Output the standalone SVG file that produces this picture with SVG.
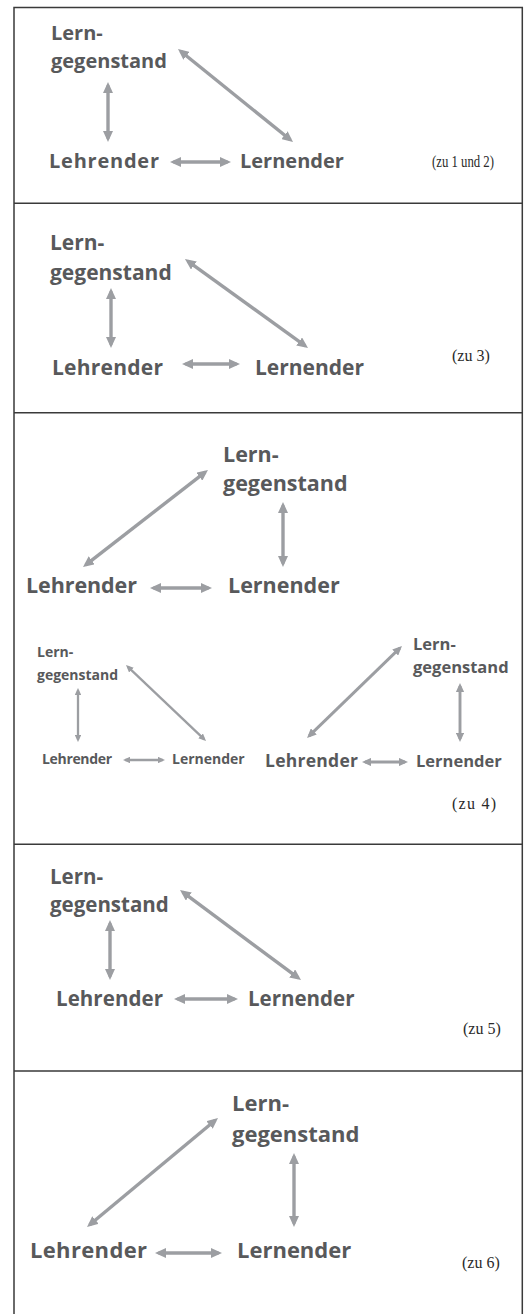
<svg xmlns="http://www.w3.org/2000/svg" width="529" height="1314" viewBox="0 0 529 1314">
<style>
.bg{fill:#ffffff}
.frame{fill:none;stroke:#3a3a3a;stroke-width:1.5}
.lbl{font-family:"Open Sans","Liberation Sans",sans-serif;font-weight:700;fill:#58595b}
.note{font-family:"Liberation Serif","DejaVu Serif",serif;font-size:16px;fill:#2a2a2a}
.c{stroke:#9c9ea2;fill:none;stroke-width:3.4;marker-start:url(#ah);marker-end:url(#ah)}
.cs{stroke-width:2.3}
.cm{stroke-width:2.9}
</style>
<defs>
<marker id="ah" viewBox="0 0 11 10" refX="7.5" refY="5" markerWidth="3.24" markerHeight="2.94" orient="auto-start-reverse" markerUnits="strokeWidth">
<path d="M0,0 L11,5 L0,10 z" fill="#9c9ea2"/>
</marker>
</defs>
<rect class="bg" x="0" y="0" width="529" height="1314"/>
<g id="frames">
<path class="frame" d="M14,1314 V7.5 H522.3 V1314"/>
<path class="frame" d="M14,203.3 H522.3 M14,412.7 H522.3 M14,844.3 H522.3 M14,1071 H522.3"/>
</g>
<g id="connectors">
<path class="c" d="M108,85.5 V138.5"/>
<path class="c" d="M180.7,51.2 L290.3,139.8"/>
<path class="c" d="M173.5,162 H227.5"/>
<path class="c" d="M111,291.5 V344.5"/>
<path class="c" d="M187.8,261.1 L305.2,345.9"/>
<path class="c" d="M185.5,364 H236.5"/>
<path class="c" d="M85.8,564.9 L205.2,472.1"/>
<path class="c" d="M283,505.5 V563.5"/>
<path class="c" d="M153.5,588 H208.5"/>
<path class="c cs" d="M78,690.3 V739.7"/>
<path class="c cs" d="M127.7,666.6 L204.3,739.4"/>
<path class="c cs" d="M125.3,760 H162.7"/>
<path class="c cm" d="M460,686 V739"/>
<path class="c cm" d="M309.2,735.9 L399.8,648.1"/>
<path class="c cm" d="M365,762 H405"/>
<path class="c" d="M110,923.5 V976.5"/>
<path class="c" d="M182.8,892.1 L298.2,977.9"/>
<path class="c" d="M177.5,999 H234.5"/>
<path class="c" d="M89.7,1224.8 L215.3,1120.2"/>
<path class="c" d="M294,1156.5 V1223.5"/>
<path class="c" d="M158.5,1253 H218.5"/>
</g>
<g id="p1-lerngegenstand"><text class="lbl" font-size="20" x="51" y="40">Lern-</text><text class="lbl" font-size="20" x="51" y="68">gegenstand</text></g>
<g id="p1-lehrender"><text class="lbl" font-size="20" x="49" y="168" textLength="110" lengthAdjust="spacing">Lehrender</text></g>
<g id="p1-lernender"><text class="lbl" font-size="20" x="240" y="168">Lernender</text></g>
<g id="p1-note"><text class="note" font-size="14.5" x="432" y="167" textLength="62" lengthAdjust="spacingAndGlyphs">(zu 1 und 2)</text></g>

<g id="p2-lerngegenstand"><text class="lbl" font-size="21" x="50" y="250">Lern-</text><text class="lbl" font-size="21" x="50" y="280">gegenstand</text></g>
<g id="p2-lehrender"><text class="lbl" font-size="21" x="52" y="375" textLength="111" lengthAdjust="spacing">Lehrender</text></g>
<g id="p2-lernender"><text class="lbl" font-size="21" x="255" y="375">Lernender</text></g>
<g id="p2-note"><text class="note" x="452" y="361">(zu 3)</text></g>

<g id="p3a-lerngegenstand"><text class="lbl" font-size="21.5" x="223" y="462">Lern-</text><text class="lbl" font-size="21.5" x="223" y="491">gegenstand</text></g>
<g id="p3a-lehrender"><text class="lbl" font-size="21.5" x="26" y="593" textLength="111" lengthAdjust="spacing">Lehrender</text></g>
<g id="p3a-lernender"><text class="lbl" font-size="21.5" x="228" y="593">Lernender</text></g>

<g id="p3b-lerngegenstand"><text class="lbl" font-size="14" x="37" y="657">Lern-</text><text class="lbl" font-size="14" x="37" y="680">gegenstand</text></g>
<g id="p3b-lehrender"><text class="lbl" font-size="14" x="42" y="764" textLength="70" lengthAdjust="spacing">Lehrender</text></g>
<g id="p3b-lernender"><text class="lbl" font-size="14" x="172" y="764">Lernender</text></g>

<g id="p3c-lerngegenstand"><text class="lbl" font-size="16.5" x="413" y="650">Lern-</text><text class="lbl" font-size="16.5" x="413" y="673">gegenstand</text></g>
<g id="p3c-lehrender"><text class="lbl" font-size="17.5" x="265" y="767" textLength="93" lengthAdjust="spacing">Lehrender</text></g>
<g id="p3c-lernender"><text class="lbl" font-size="16.5" x="416" y="767">Lernender</text></g>
<g id="p3-note"><text class="note" x="452" y="809" textLength="44" lengthAdjust="spacing">(zu 4)</text></g>

<g id="p4-lerngegenstand"><text class="lbl" font-size="20.5" x="50" y="884">Lern-</text><text class="lbl" font-size="20.5" x="50" y="912">gegenstand</text></g>
<g id="p4-lehrender"><text class="lbl" font-size="20.5" x="56" y="1006" textLength="107" lengthAdjust="spacing">Lehrender</text></g>
<g id="p4-lernender"><text class="lbl" font-size="20.5" x="248" y="1006">Lernender</text></g>
<g id="p4-note"><text class="note" x="463" y="1034">(zu 5)</text></g>

<g id="p5-lerngegenstand"><text class="lbl" font-size="22" x="232" y="1111">Lern-</text><text class="lbl" font-size="22" x="232" y="1142">gegenstand</text></g>
<g id="p5-lehrender"><text class="lbl" font-size="22" x="30" y="1258" textLength="117" lengthAdjust="spacing">Lehrender</text></g>
<g id="p5-lernender"><text class="lbl" font-size="22" x="237" y="1258">Lernender</text></g>
<g id="p5-note"><text class="note" x="462" y="1268">(zu 6)</text></g>
</svg>
